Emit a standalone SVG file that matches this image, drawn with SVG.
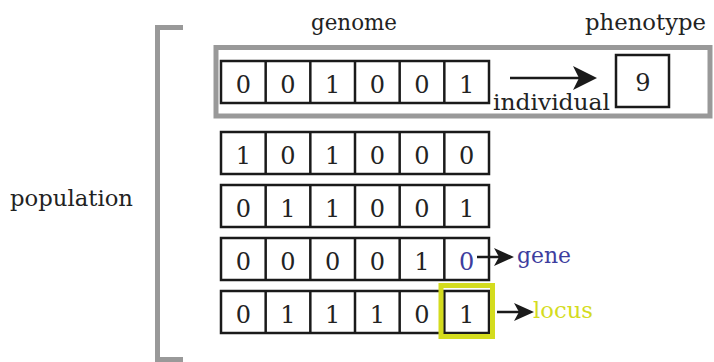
<svg xmlns="http://www.w3.org/2000/svg" width="714" height="362" viewBox="0 0 714 362" font-family="'DejaVu Serif', 'Liberation Serif', serif">
<defs>
<style>
text{font-family:"DejaVu Serif","Liberation Serif",serif;fill:#222;}
.d{font-size:24px;text-anchor:middle;}
.lbl{font-size:23px;}
.cell{fill:#fff;stroke:#1a1a1a;stroke-width:2.5;}
.gray{fill:none;stroke:#999;stroke-width:5;}
.ln{stroke:#1a1a1a;stroke-width:2.5;fill:none;}
.head{fill:#1a1a1a;}
</style>
</defs>
<rect width="714" height="362" fill="#fff"/>
<g id="bracket"><path class="gray" d="M183 27.5 H157.5 V359.5 H183"/></g>
<g id="population-label"><text class="lbl" x="10" y="206" textLength="123" lengthAdjust="spacingAndGlyphs">population</text></g>
<g id="individual-frame"><rect class="gray" x="216" y="47.5" width="494" height="68.5"/></g>
<g id="genome-label"><text class="lbl" x="311" y="30" textLength="86" lengthAdjust="spacingAndGlyphs">genome</text></g>
<g id="phenotype-label"><text class="lbl" x="585" y="30" textLength="121" lengthAdjust="spacingAndGlyphs">phenotype</text></g>

<g id="row1">
<rect class="cell" x="221" y="61" width="268" height="42"/>
<path class="ln" d="M265.67 61V103M310.33 61V103M355 61V103M399.67 61V103M444.33 61V103"/>
<text class="d" x="243.3" y="93">0</text><text class="d" x="288" y="93">0</text><text class="d" x="332.7" y="93">1</text><text class="d" x="377.3" y="93">0</text><text class="d" x="422" y="93">0</text><text class="d" x="466.7" y="93">1</text>
</g>
<g id="row2">
<rect class="cell" x="221" y="132" width="268" height="42"/>
<path class="ln" d="M265.67 132V174M310.33 132V174M355 132V174M399.67 132V174M444.33 132V174"/>
<text class="d" x="243.3" y="164">1</text><text class="d" x="288" y="164">0</text><text class="d" x="332.7" y="164">1</text><text class="d" x="377.3" y="164">0</text><text class="d" x="422" y="164">0</text><text class="d" x="466.7" y="164">0</text>
</g>
<g id="row3">
<rect class="cell" x="221" y="185" width="268" height="42"/>
<path class="ln" d="M265.67 185V227M310.33 185V227M355 185V227M399.67 185V227M444.33 185V227"/>
<text class="d" x="243.3" y="217">0</text><text class="d" x="288" y="217">1</text><text class="d" x="332.7" y="217">1</text><text class="d" x="377.3" y="217">0</text><text class="d" x="422" y="217">0</text><text class="d" x="466.7" y="217">1</text>
</g>
<g id="row4">
<rect class="cell" x="221" y="238" width="268" height="42"/>
<path class="ln" d="M265.67 238V280M310.33 238V280M355 238V280M399.67 238V280M444.33 238V280"/>
<text class="d" x="243.3" y="270">0</text><text class="d" x="288" y="270">0</text><text class="d" x="332.7" y="270">0</text><text class="d" x="377.3" y="270">0</text><text class="d" x="422" y="270">1</text><text class="d" x="466.7" y="270" style="fill:#3d3d9e">0</text>
</g>
<g id="row5">
<rect class="cell" x="221" y="291" width="268" height="42"/>
<path class="ln" d="M265.67 291V333M310.33 291V333M355 291V333M399.67 291V333M444.33 291V333"/>
<text class="d" x="243.3" y="323">0</text><text class="d" x="288" y="323">1</text><text class="d" x="332.7" y="323">1</text><text class="d" x="377.3" y="323">1</text><text class="d" x="422" y="323">0</text><text class="d" x="466.7" y="323">1</text>
</g>
<g id="locus-highlight"><rect x="441" y="285.5" width="51.5" height="51" fill="none" stroke="#d4dc1e" stroke-width="5"/></g>

<g id="phenotype"><rect class="cell" x="616" y="55" width="53" height="52"/><text class="d" x="643" y="91">9</text></g>
<g id="individual-label"><text class="lbl" x="493" y="110" textLength="117" lengthAdjust="spacingAndGlyphs">individual</text></g>
<g id="gene-label"><text class="lbl" x="517" y="263" textLength="54" lengthAdjust="spacingAndGlyphs" style="fill:#3d3d9e">gene</text></g>
<g id="locus-label"><text class="lbl" x="533" y="318" textLength="60" lengthAdjust="spacingAndGlyphs" style="fill:#d4dc1e">locus</text></g>

<g id="connectors">
<path class="ln" d="M510 78H584"/>
<path class="head" d="M597 78 L573 66 L579 78 L573 90Z"/>
<path class="ln" d="M477 257H505"/>
<path class="head" d="M514 257 L494 248 L499 257 L494 266Z"/>
<path class="ln" d="M497 312H525"/>
<path class="head" d="M534 312 L514 303 L519 312 L514 321Z"/>
</g>
</svg>
